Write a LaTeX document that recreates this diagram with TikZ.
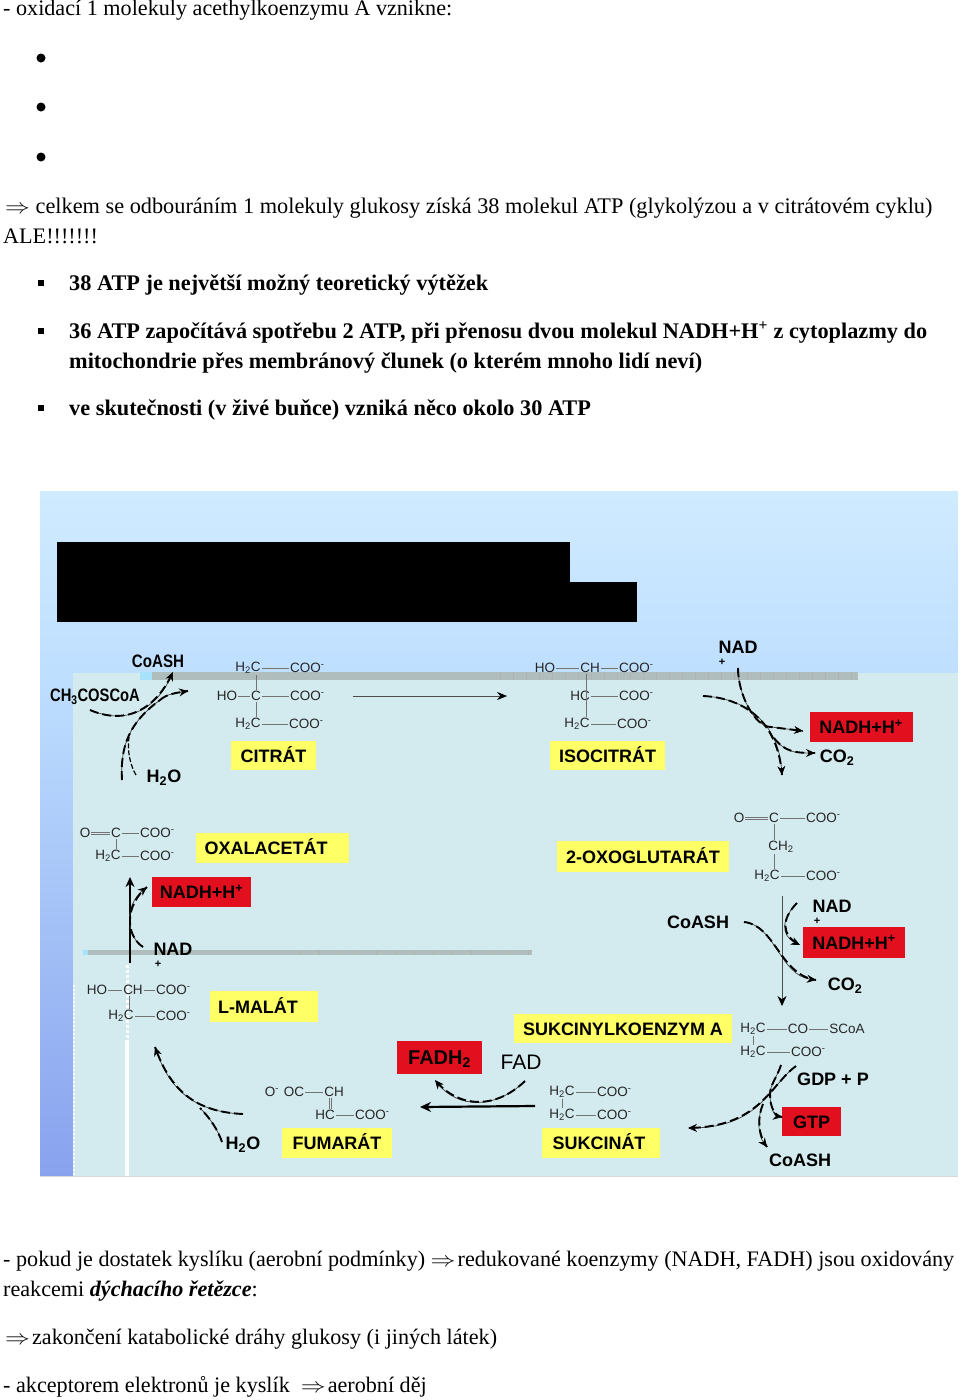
\documentclass[tikz,border=0pt]{standalone}
\usepackage{fontspec}
\setmainfont{Liberation Serif}
\setsansfont{Liberation Sans}
\usetikzlibrary{arrows.meta, calc}
\definecolor{panelblue}{HTML}{D3EAEE}
\definecolor{stripgray}{HTML}{AFBDBD}
\definecolor{labelyellow}{HTML}{FFFF66}
\definecolor{labelred}{HTML}{E2101F}
\definecolor{skytop}{HTML}{CFEBFF}
\definecolor{skylow}{HTML}{BFDFFF}
\definecolor{edgelow}{HTML}{88A2EE}
\newcommand{\impl}{\scalebox{1.2}[1]{$\Rightarrow$}}

\begin{document}
\begin{tikzpicture}[x=1pt, y=-1pt,
        line/.style={anchor=base west, inner sep=0pt, font=\fontsize{22.15}{26}\selectfont},
        boldline/.style={line, font=\fontsize{22.3}{26}\selectfont\bfseries},
        bullet/.style={circle, fill=black, inner sep=0pt, minimum size=9pt},
        squarebullet/.style={rectangle, fill=black, inner sep=0pt, minimum size=6.5pt},
        chem/.style={inner sep=1pt, text=black!85, font=\fontsize{13.5}{16}\sffamily},
        coo/.style={chem, anchor=west},
        bond/.style={line width=0.7pt, black!55},
        lab/.style={inner sep=0pt, font=\fontsize{18}{20}\sffamily\bfseries},
        plus/.style={inner sep=0pt, font=\fontsize{11}{12}\sffamily\bfseries},
        yellowbox/.style={rectangle, fill=labelyellow, inner sep=0pt, text height=13pt, text depth=0pt, font=\fontsize{18}{20}\sffamily\bfseries},
        redbox/.style={rectangle, fill=labelred, inner sep=0pt, text height=13pt, text depth=0pt, font=\fontsize{18}{20}\sffamily\bfseries},
        flow/.style={line width=0.7pt, black!75, -{Stealth[length=9pt, width=8pt, black]}},
        rxn/.style={flow, postaction={draw, -, black, line width=1.9pt, dash pattern=on 9pt off 4pt}}
    ]
        \useasboundingbox (0,0) rectangle (960,1400);

        % Text above
        \node[line] (l1) at (3,16) {- oxidací 1 molekuly acethylkoenzymu A vznikne:};
        \node[bullet] (b1) at (41,58) {};
        \node[bullet] (b2) at (41,107) {};
        \node[bullet] (b3) at (41,157) {};
        \node[line, font=\fontsize{22.3}{26}\selectfont] (l2) at (5,213) {\impl\ celkem se odbouráním 1 molekuly glukosy získá 38 molekul ATP (glykolýzou a v citrátovém cyklu)};
        \node[line] (l3) at (3,243) {ALE!!!!!!!};
        \node[squarebullet] (s1) at (41,283) {};
        \node[boldline] (l4) at (69,290) {38 ATP je největší možný teoretický výtěžek};
        \node[squarebullet] (s2) at (41,331) {};
        \node[boldline] (l5) at (69,338.5) {36 ATP započítává spotřebu 2 ATP, při přenosu dvou molekul NADH+H\textsuperscript{+} z cytoplazmy do};
        \node[boldline] (l6) at (69,368) {mitochondrie přes membránový člunek (o kterém mnoho lidí neví)};
        \node[squarebullet] (s3) at (41,408) {};
        \node[boldline] (l7) at (69,415) {ve skutečnosti (v živé buňce) vzniká něco okolo 30 ATP};

        % Panel
        \shade[top color=skytop, bottom color=skylow] (40,491) rectangle (958,673);
        \shade[top color=skylow, bottom color=edgelow] (40,673) rectangle (73,1176);
        \fill[panelblue] (73,673) rectangle (958,1176);
        \fill[black] (57,542) rectangle (570,622);
        \fill[black] (570,582) rectangle (637,622);
        \fill[stripgray] (152,672) rectangle (858,680);
        \fill[cyan!35] (140,672) rectangle (152,680);
        \fill[stripgray] (88,950) rectangle (532,955);
        \fill[cyan!35] (83,950) rectangle (88,955);
        \foreach \x in {500,513,...,858} \draw[black!30, line width=0.4pt] (\x,672) -- (\x,680);
        \foreach \x in {300,319,...,530} \draw[black!30, line width=0.4pt] (\x,950) -- (\x,955);
        \fill[white] (125,1040) rectangle (129,1176);
        \draw[white, line width=3pt, dotted] (127,965) -- (127,1040);
        \draw[white, line width=2pt, dotted] (74,985) -- (74,1176);
        \draw[black!15, line width=0.7pt] (40,1176) -- (958,1176);

        % Citrat
        \node[chem] (cit1) at (248,668) {H\textsubscript{2}C};
        \node[coo] (cit1c) at (289,668) {COO\textsuperscript{-}};
        \node[chem] (cit2h) at (227,696) {HO};
        \node[chem] (cit2) at (256,696) {C};
        \node[coo] (cit2c) at (289,696) {COO\textsuperscript{-}};
        \node[chem] (cit3) at (248,724) {H\textsubscript{2}C};
        \node[coo] (cit3c) at (288,724) {COO\textsuperscript{-}};
        \draw[bond] (cit1) -- (cit1c);
        \draw[bond] (cit2h) -- (cit2);
        \draw[bond] (cit2) -- (cit2c);
        \draw[bond] (cit3) -- (cit3c);
        \draw[bond] (cit2 |- cit1.south) -- (cit2);
        \draw[bond] (cit2) -- (cit2 |- cit3.north);
        \node[yellowbox, minimum width=85pt, minimum height=29pt] (citrat) at (273.5,755.5) {CITRÁT};

        % Isocitrat
        \node[chem] (iso1h) at (545,668) {HO};
        \node[chem] (iso1) at (590,668) {CH};
        \node[coo] (iso1c) at (618,668) {COO\textsuperscript{-}};
        \node[chem] (iso2) at (580,696) {HC};
        \node[coo] (iso2c) at (618,696) {COO\textsuperscript{-}};
        \node[chem] (iso3) at (577,724) {H\textsubscript{2}C};
        \node[coo] (iso3c) at (616,724) {COO\textsuperscript{-}};
        \draw[bond] (iso1h) -- (iso1);
        \draw[bond] (iso1) -- (iso1c);
        \draw[bond] (iso2) -- (iso2c);
        \draw[bond] (iso3) -- (iso3c);
        \coordinate (isov) at (586,696);
        \draw[bond] (isov |- iso1.south) -- (isov |- iso3.north);
        \node[yellowbox, minimum width=115pt, minimum height=29pt] (isocitrat) at (607.5,755.5) {ISOCITRÁT};

        % 2-oxoglutarat
        \node[chem] (oxg1o) at (739,818) {O};
        \node[chem] (oxg1) at (774,818) {C};
        \node[coo] (oxg1c) at (805,818) {COO\textsuperscript{-}};
        \node[chem] (oxg2) at (781,847) {CH\textsubscript{2}};
        \node[chem] (oxg3) at (767,876) {H\textsubscript{2}C};
        \node[coo] (oxg3c) at (805,876) {COO\textsuperscript{-}};
        \draw[bond] ([yshift=1pt]oxg1o.east) -- ([yshift=1pt]oxg1.west);
        \draw[bond] ([yshift=-1pt]oxg1o.east) -- ([yshift=-1pt]oxg1.west);
        \draw[bond] (oxg1) -- (oxg1c);
        \draw[bond] (oxg3) -- (oxg3c);
        \draw[bond] (oxg1) -- (oxg1 |- oxg2.north);
        \draw[bond] (oxg1 |- oxg2.south) -- (oxg1 |- oxg3.north);
        \node[yellowbox, minimum width=172pt, minimum height=31pt] (oxoglutarat) at (643,856.5) {2-OXOGLUTARÁT};

        % Sukcinylkoenzym A
        \node[yellowbox, minimum width=218pt, minimum height=29pt] (sukcoa) at (623,1028.5) {SUKCINYLKOENZYM A};
        \node[chem] (suk1) at (753,1029) {H\textsubscript{2}C};
        \node[chem] (suk1c) at (798,1029) {CO};
        \node[chem] (suk1s) at (847,1029) {SCoA};
        \node[chem] (suk2) at (753,1052) {H\textsubscript{2}C};
        \node[coo] (suk2c) at (790,1052) {COO\textsuperscript{-}};
        \draw[bond] (suk1) -- (suk1c);
        \draw[bond] (suk1c) -- (suk1s);
        \draw[bond] (suk2) -- (suk2c);
        \draw[bond] (suk1) -- (suk2);

        % Sukcinat
        \node[chem] (sci1) at (562,1092) {H\textsubscript{2}C};
        \node[coo] (sci1c) at (596,1092) {COO\textsuperscript{-}};
        \node[chem] (sci2) at (562,1115) {H\textsubscript{2}C};
        \node[coo] (sci2c) at (596,1115) {COO\textsuperscript{-}};
        \draw[bond] (sci1) -- (sci1c);
        \draw[bond] (sci2) -- (sci2c);
        \draw[bond] (sci1) -- (sci2);
        \node[yellowbox, minimum width=118pt, minimum height=30pt] (sukcinat) at (601,1143) {\hspace{-4pt}SUKCINÁT};

        % Fumarat
        \node[chem] (fum1o) at (272,1092) {O\textsuperscript{-}};
        \node[chem] (fum1) at (294,1092) {OC};
        \node[chem] (fum1h) at (334,1092) {CH};
        \node[chem] (fum2) at (325,1115) {HC};
        \node[coo] (fum2c) at (354,1115) {COO\textsuperscript{-}};
        \coordinate (fumv) at (330,1103);
        \draw[bond] (fum1) -- (fum1h);
        \draw[bond] (fum2) -- (fum2c);
        \draw[bond] ([xshift=-1pt]fumv |- fum1h.south) -- ([xshift=-1pt]fumv |- fum2.north);
        \draw[bond] ([xshift=1pt]fumv |- fum1h.south) -- ([xshift=1pt]fumv |- fum2.north);
        \node[yellowbox, minimum width=110pt, minimum height=30pt] (fumarat) at (337,1143) {FUMARÁT};

        % L-malat
        \node[chem] (mal1h) at (97,990) {HO};
        \node[chem] (mal1) at (133,990) {CH};
        \node[coo] (mal1c) at (155,990) {COO\textsuperscript{-}};
        \node[chem] (mal2) at (121,1016) {H\textsubscript{2}C};
        \node[coo] (mal2c) at (155,1016) {COO\textsuperscript{-}};
        \coordinate (malv) at (129,1003);
        \draw[bond] (mal1h) -- (mal1);
        \draw[bond] (mal1) -- (mal1c);
        \draw[bond] (mal2) -- (mal2c);
        \draw[bond] (malv |- mal1.south) -- (malv |- mal2.north);
        \node[yellowbox, minimum width=108pt, minimum height=31pt] (malat) at (264,1006.5) {\hspace{-12pt}L-MALÁT};

        % Oxalacetat
        \node[chem] (oxa1o) at (85,833) {O};
        \node[chem] (oxa1) at (116,833) {C};
        \node[coo] (oxa1c) at (139,833) {COO\textsuperscript{-}};
        \node[chem] (oxa2) at (108,856) {H\textsubscript{2}C};
        \node[coo] (oxa2c) at (139,856) {COO\textsuperscript{-}};
        \draw[bond] ([yshift=1pt]oxa1o.east) -- ([yshift=1pt]oxa1.west);
        \draw[bond] ([yshift=-1pt]oxa1o.east) -- ([yshift=-1pt]oxa1.west);
        \draw[bond] (oxa1) -- (oxa1c);
        \draw[bond] (oxa2) -- (oxa2c);
        \draw[bond] (oxa1) -- (oxa1 |- oxa2.north);
        \node[yellowbox, minimum width=153pt, minimum height=30pt] (oxalacetat) at (272,848) {\hspace{-12pt}OXALACETÁT};

        % Labels
        \node[lab] (coash1) at (158,661) {\scalebox{.84}[1]{CoASH}};
        \node[lab] (acetyl) at (95,697) {\scalebox{.82}[1]{CH\textsubscript{3}COSCoA}};
        \node[lab] (h2o1) at (164,778) {H\textsubscript{2}O};
        \node[lab] (nad1) at (738,647) {NAD};
        \node[plus] (nad1p) at (722,662) {+};
        \node[redbox, minimum width=103pt, minimum height=30pt] (nadh1) at (861,727) {NADH+H\textsuperscript{+}};
        \node[lab] (co1) at (837,758) {CO\textsubscript{2}};
        \node[lab] (coash2) at (698,922) {CoASH};
        \node[lab] (nad2) at (832,906) {NAD};
        \node[plus] (nad2p) at (817,921) {+};
        \node[redbox, minimum width=102pt, minimum height=31pt] (nadh2) at (854,942.5) {NADH+H\textsuperscript{+}};
        \node[lab] (co2) at (845,986) {CO\textsubscript{2}};
        \node[lab] (gdp) at (833,1079) {GDP + P};
        \node[redbox, minimum width=59pt, minimum height=29pt] (gtp) at (811.5,1121.5) {GTP};
        \node[lab] (coash3) at (800,1160) {CoASH};
        \node[redbox, minimum width=85pt, minimum height=33pt, font=\fontsize{20}{22}\sffamily\bfseries] (fadh) at (439.5,1057.5) {FADH\textsubscript{2}};
        \node[inner sep=0pt, font=\fontsize{21}{24}\sffamily] (fad) at (521,1062) {FAD};
        \node[lab] (h2o2) at (243,1145) {H\textsubscript{2}O};
        \node[redbox, minimum width=99pt, minimum height=30pt] (nadh3) at (201.5,892) {NADH+H\textsuperscript{+}};
        \node[lab] (nad3) at (173,949) {NAD};
        \node[plus] (nad3p) at (158,964) {+};

        % Arrow ends
        \coordinate (a1s) at (90,710);
        \coordinate (a1e) at (173,672);
        \coordinate (a1m) at (160,700);
        \coordinate (a1f) at (188,691);
        \coordinate (w1s) at (122,780);
        \coordinate (w2s) at (136,775);
        \coordinate (w2e) at (129,737);
        \coordinate (c1s) at (353,696);
        \coordinate (c1e) at (507,696);
        \coordinate (i1s) at (703,696);
        \coordinate (i1e) at (782,775);
        \coordinate (i1m) at (771,727);
        \coordinate (i1n) at (738,668);
        \coordinate (i1r) at (803,731);
        \coordinate (i1t) at (774,738);
        \coordinate (i1c) at (815,753);
        \coordinate (o1s) at (782,896);
        \coordinate (o1e) at (782,1006);
        \coordinate (o2s) at (744,922);
        \coordinate (o2e) at (816,980);
        \coordinate (o3s) at (797,903);
        \coordinate (o3e) at (800,945);
        \coordinate (g1s) at (796,1066);
        \coordinate (g1e) at (688,1128);
        \coordinate (g2s) at (781,1065);
        \coordinate (g2m) at (770,1094);
        \coordinate (g2e) at (782,1117);
        \coordinate (g3s) at (763,1104);
        \coordinate (g3e) at (767,1147);
        \coordinate (f1s) at (535,1106);
        \coordinate (f1e) at (420,1107);
        \coordinate (f2s) at (525,1081);
        \coordinate (f2e) at (435,1080);
        \coordinate (m1s) at (243,1114);
        \coordinate (m1e) at (155,1047);
        \coordinate (m2s) at (222,1142);
        \coordinate (m2e) at (200,1108);
        \coordinate (h1s) at (130,963);
        \coordinate (h1e) at (130,877);
        \coordinate (h2s) at (143,947);
        \coordinate (h2e) at (147,887);

        % Arrows
        \draw[rxn] (a1s) .. controls (130,727) and (158,705) .. (a1e);
        \draw[rxn] (a1m) .. controls (167,694) and (175,693) .. (a1f);
        \draw[rxn, -] (w1s) .. controls (120,745) and (130,722) .. (a1m);
        \draw[line width=1.2pt, black, dash pattern=on 5pt off 2pt] (w2s) .. controls (130,765) and (127,750) .. (w2e);
        \draw[line width=0.7pt, black!70, -{Stealth[length=10pt, width=8pt, black]}] (c1s) -- (c1e);
        \draw[rxn] (i1s) .. controls (745,698) and (778,722) .. (i1e);
        \draw[rxn] (i1n) .. controls (738,695) and (755,727) .. (i1m) -- (i1r);
        \draw[rxn] (i1t) .. controls (785,752) and (795,753) .. (i1c);
        \draw[line width=0.7pt, black!70, -{Stealth[length=10pt, width=9pt, black]}] (o1s) -- (o1e);
        \draw[rxn] (o2s) .. controls (775,925) and (780,975) .. (o2e);
        \draw[rxn] (o3s) .. controls (782,918) and (780,935) .. (o3e);
        \draw[rxn] (g1s) .. controls (770,1085) and (760,1127) .. (g1e);
        \draw[rxn] (g2s) .. controls (778,1075) and (770,1085) .. (g2m) .. controls (770,1108) and (775,1116) .. (g2e);
        \draw[rxn] (g3s) .. controls (757,1118) and (758,1135) .. (g3e);
        \draw[line width=2.2pt, black, -{Stealth[length=11pt, width=10pt]}] (f1s) -- (f1e);
        \draw[rxn] (f2s) .. controls (495,1110) and (458,1108) .. (f2e);
        \draw[rxn] (m1s) .. controls (200,1112) and (172,1095) .. (m1e);
        \draw[rxn, -] (m2s) .. controls (218,1130) and (210,1118) .. (m2e);
        \draw[line width=2.2pt, black, -{Stealth[length=10pt, width=9pt]}] (h1s) -- (h1e);
        \draw[rxn] (h2s) .. controls (125,935) and (125,905) .. (h2e);

        % Text below
        \node[line] (l8) at (3,1266) {- pokud je dostatek kyslíku (aerobní podmínky) \impl\hspace{2pt}redukované koenzymy (NADH, FADH) jsou oxidovány};
        \node[line] (l9) at (3,1296) {reakcemi \textit{\textbf{dýchacího řetězce}}:};
        \node[line] (l10) at (5,1344) {\impl\hspace{2pt}zakončení katabolické dráhy glukosy (i jiných látek)};
        \node[line] (l11) at (3,1392) {- akceptorem elektronů je kyslík \ \impl\hspace{2pt}aerobní děj};
    \end{tikzpicture}
\end{document}
